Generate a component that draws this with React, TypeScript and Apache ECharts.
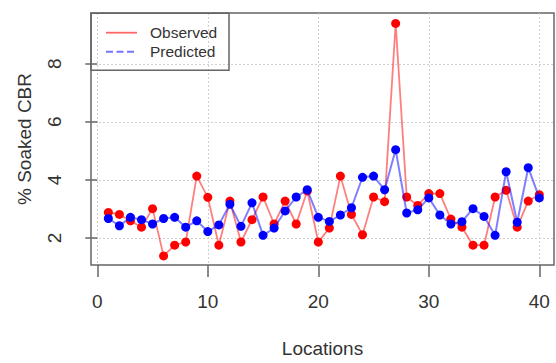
import React, { useEffect, useRef } from "react";
import * as echarts from "echarts";

const locations: number[] = Array.from({ length: 40 }, (_, i) => i + 1);
const observed: number[] = [2.88, 2.81, 2.59, 2.37, 3.01, 1.38, 1.75, 1.86, 4.13, 3.4, 1.75, 3.27, 1.86, 2.63, 3.41, 2.48, 3.27, 2.48, 3.62, 1.86, 2.34, 4.13, 2.81, 2.11, 3.41, 3.25, 9.39, 3.41, 3.12, 3.53, 3.53, 2.65, 2.37, 1.75, 1.75, 3.41, 3.64, 2.37, 3.27, 3.49];
const predicted: number[] = [2.67, 2.42, 2.71, 2.63, 2.48, 2.67, 2.71, 2.37, 2.59, 2.22, 2.45, 3.16, 2.4, 3.21, 2.09, 2.34, 2.93, 3.41, 3.66, 2.71, 2.57, 2.79, 3.04, 4.09, 4.13, 3.66, 5.04, 2.86, 2.97, 3.38, 2.79, 2.48, 2.56, 3.01, 2.74, 2.09, 4.28, 2.54, 4.42, 3.38];
const xTicks: number[] = [0, 10, 20, 30, 40];
const yTicks: number[] = [2, 4, 6, 8];

const FONT = "Liberation Sans, Arial, sans-serif";
const TXT = "#333";
const AX = "#666";

export default function App() {
  const ref = useRef<HTMLDivElement>(null);
  useEffect(() => {
    if (!ref.current) return;
    const chart = echarts.init(ref.current, null, { renderer: "svg" });
    const obsData = locations.map((x, i) => [x, observed[i]]);
    const predData = locations.map((x, i) => [x, predicted[i]]);
    chart.setOption({
      animation: false,
      backgroundColor: "#fff",
      textStyle: { fontFamily: FONT },
      grid: {
        left: 91,
        top: 13,
        width: 463,
        height: 258,
        show: true,
        borderColor: AX,
        borderWidth: 1.5,
        backgroundColor: "transparent",
      },
      xAxis: {
        type: "value",
        min: -0.57,
        max: 41.33,
        name: "Locations",
        nameLocation: "middle",
        nameGap: 74,
        nameMoveOverlap: false,
        nameTextStyle: { fontSize: 19, color: TXT, fontFamily: FONT },
        axisLine: { show: false },
        axisTick: { show: true, length: 12, customValues: xTicks, lineStyle: { color: AX, width: 1.5 } },
        axisLabel: { customValues: xTicks, fontSize: 19, color: TXT, margin: 26.5, fontFamily: FONT },
        splitLine: { show: true, lineStyle: { color: "#d0d0d0", type: [2, 2], width: 1 } },
      },
      yAxis: {
        type: "value",
        min: 1.068,
        max: 9.749,
        name: "% Soaked CBR",
        nameLocation: "middle",
        nameGap: 57,
        nameMoveOverlap: false,
        nameRotate: 90,
        nameTextStyle: { fontSize: 19, color: TXT, fontFamily: FONT },
        axisLine: { show: false },
        axisTick: { show: true, length: 12, customValues: yTicks, lineStyle: { color: AX, width: 1.5 } },
        axisLabel: { customValues: yTicks, fontSize: 19, color: TXT, margin: 27, rotate: 90, fontFamily: FONT },
        splitLine: { show: true, lineStyle: { color: "#d0d0d0", type: [2, 2], width: 1 } },
      },
      series: [
        {
          name: "Observed",
          type: "line",
          data: obsData,
          symbol: "circle",
          symbolSize: 9,
          itemStyle: { color: "#ff0000" },
          lineStyle: { color: "rgba(255,0,0,0.5)", width: 1.8 },
          z: 2,
        },
        {
          name: "Predicted",
          type: "line",
          data: predData,
          symbol: "circle",
          symbolSize: 9,
          itemStyle: { color: "#0000ff" },
          lineStyle: { color: "rgba(0,0,255,0.5)", width: 2 },
          z: 3,
        },
      ],
      graphic: [
        {
          type: "rect",
          shape: { x: 91, y: 13.3, width: 138, height: 57 },
          style: { fill: "transparent", stroke: AX, lineWidth: 1.5 },
          z: 10,
        },
        {
          type: "line",
          shape: { x1: 106, y1: 32.7, x2: 137, y2: 32.7 },
          style: { stroke: "rgba(255,0,0,0.6)", lineWidth: 1.8 },
          z: 10,
        },
        {
          type: "line",
          shape: { x1: 106, y1: 51.7, x2: 137, y2: 51.7 },
          style: { stroke: "rgba(0,0,255,0.55)", lineWidth: 2, lineDash: [7, 3.5] },
          z: 10,
        },
        {
          type: "text",
          x: 150,
          y: 32.7,
          style: { text: "Observed", fontSize: 15.5, fill: TXT, fontFamily: FONT, verticalAlign: "middle", align: "left" },
          z: 10,
        },
        {
          type: "text",
          x: 150,
          y: 51.7,
          style: { text: "Predicted", fontSize: 15.5, fill: TXT, fontFamily: FONT, verticalAlign: "middle", align: "left" },
          z: 10,
        },
      ],
    });
    return () => chart.dispose();
  }, []);
  return <div ref={ref} style={{ position: "fixed", left: 0, top: 0, width: 556, height: 363 }} />;
}
